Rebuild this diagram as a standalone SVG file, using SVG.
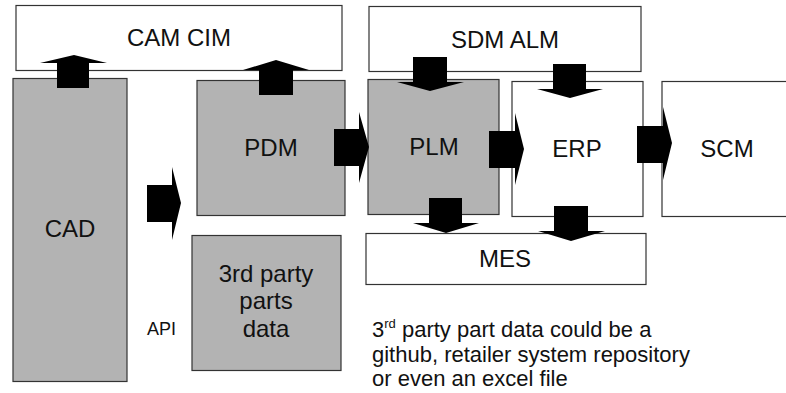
<svg xmlns="http://www.w3.org/2000/svg" width="786" height="393" viewBox="0 0 786 393">
<style>
.box{stroke:#333;stroke-width:1.2}
.w{fill:#fff}
.g{fill:#b3b3b3}
.t{font-family:"Liberation Sans",Arial,sans-serif;font-size:24px;fill:#111;text-anchor:middle}
.s{font-family:"Liberation Sans",Arial,sans-serif;fill:#111}
.arr{fill:#000}
</style>
<rect width="786" height="393" fill="#fff"/>
<g id="camcim"><rect class="box w" x="16" y="5.5" width="326" height="65"/><text class="t" x="179" y="46">CAM CIM</text></g>
<g id="sdmalm"><rect class="box w" x="369" y="6.5" width="272" height="65"/><text class="t" x="505" y="48">SDM ALM</text></g>
<g id="cad"><rect class="box g" x="13" y="78.5" width="114" height="303"/><text class="t" x="70" y="237">CAD</text></g>
<g id="pdm"><rect class="box g" x="197" y="80.5" width="148" height="135"/><text class="t" x="271" y="156">PDM</text></g>
<g id="plm"><rect class="box g" x="368" y="79.5" width="131" height="135"/><text class="t" x="434" y="155">PLM</text></g>
<g id="erp"><rect class="box w" x="512" y="81.5" width="131" height="135"/><text class="t" x="577" y="157">ERP</text></g>
<g id="scm"><rect class="box w" x="662" y="81.5" width="140" height="135"/><text class="t" x="727" y="157">SCM</text></g>
<g id="mes"><rect class="box w" x="366" y="233.5" width="280" height="51"/><text class="t" x="505" y="267">MES</text></g>
<g id="thirdparty"><rect class="box g" x="192" y="235.5" width="149" height="135"/><text class="t" x="266" y="282">3rd party</text><text class="t" x="266" y="309">parts</text><text class="t" x="266" y="337">data</text></g>
<g id="api"><text class="s" x="147" y="335" font-size="18">API</text></g>
<g id="note"><text class="s" font-size="22"><tspan x="372" y="337">3<tspan font-size="13" dy="-9">rd</tspan><tspan dy="9"> party part data could be a</tspan></tspan><tspan x="372" y="362">github, retailer system repository</tspan><tspan x="372" y="386">or even an excel file</tspan></text></g>
<g id="connectors">
<path class="arr" d="M57 88 V63 H40 L74 55 L107 63 H89 V88 Z"/>
<path class="arr" d="M259 95 V70 H243 L276 60 L309 70 H293 V95 Z"/>
<path class="arr" d="M147 185 H172 V167 L181 203 L172 240 V222 H147 Z"/>
<path class="arr" d="M334 129 H359 V112 L369 147 L359 183 V166 H334 Z"/>
<path class="arr" d="M489 131 H515 V113 L524 149 L515 185 V168 H489 Z"/>
<path class="arr" d="M637 126 H663 V107 L672 143 L663 180 V163 H637 Z"/>
<path class="arr" d="M413 57 H447 V82 H464 L430 91 L397 82 H413 Z"/>
<path class="arr" d="M553 64 H586 V89 H603 L570 98 L537 89 H553 Z"/>
<path class="arr" d="M429 198 H462 V223 H479 L446 233 L413 223 H429 Z"/>
<path class="arr" d="M554 206 H588 V231 H605 L571 241 L538 231 H554 Z"/>
</g>
</svg>
